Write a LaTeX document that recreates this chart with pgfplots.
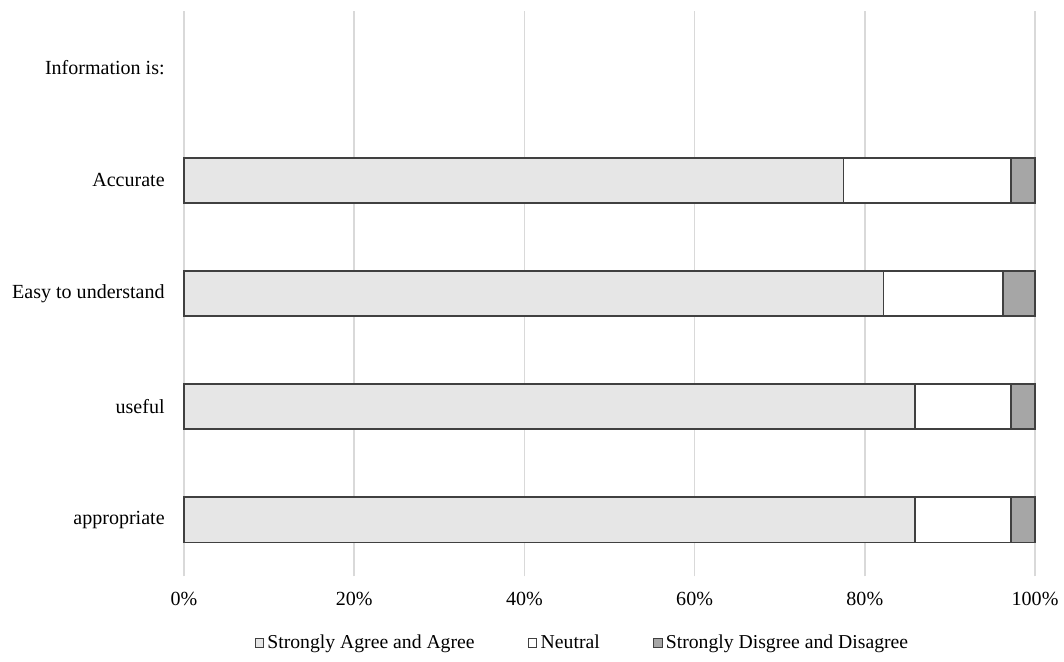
\documentclass[border=0pt]{standalone}
\usepackage{fontspec}
\setmainfont{Liberation Serif}
\usepackage{pgfplots}
\pgfplotsset{compat=1.18}
\definecolor{agree}{HTML}{E6E6E6}
\definecolor{dis}{HTML}{A6A6A6}
\definecolor{edge}{HTML}{404040}
\definecolor{gridc}{HTML}{D9D9D9}
\begin{document}
\begin{tikzpicture}
\begin{axis}[
  width=510pt, height=339pt, scale only axis,
  xbar stacked, bar width=0.4,
  xmin=0, xmax=100, ymin=-0.5, ymax=4.5,
  clip=false,
  xtick={0,20,40,60,80,100},
  xticklabel={\pgfmathprintnumber{\tick}\%},
  ytick={0,1,2,3,4},
  yticklabels={appropriate, useful\ , Easy to understand\ , Accurate, Information is:},
  axis line style={draw=none},
  major tick length=0pt,
  xmajorgrids, grid style={gridc, line width=0.8pt},
  font=\fontsize{12}{14}\selectfont,
  /pgf/number format/assume math mode=true,
  xticklabel style={yshift=-6pt},
  yticklabel style={xshift=-8pt},
  legend columns=3,
  legend style={draw=none, at={(0.469,-0.118)}, anchor=center,
    font=\fontsize{11.8}{14}\selectfont,
    /tikz/every even column/.append style={column sep=30pt}},
  legend image code/.code={\draw[#1, line width=0.6pt] (0pt,-2.6pt) rectangle (5pt,2.6pt);},
  every axis plot/.append style={draw=edge, line width=1.1pt},
]
\addplot[fill=agree] coordinates {(85.9,0) (85.9,1) (82.2,2) (77.5,3)};
\addplot[fill=white] coordinates {(11.3,0) (11.3,1) (14.0,2) (19.7,3)};
\addplot[fill=dis] coordinates {(2.8,0) (2.8,1) (3.8,2) (2.8,3)};
\legend{Strongly Agree and Agree, Neutral, Strongly Disgree and Disagree}
\end{axis}
\path (current bounding box.north west) ++(-4pt,6pt);
\path (current bounding box.south east) ++(0pt,-2pt);
\end{tikzpicture}
\end{document}
